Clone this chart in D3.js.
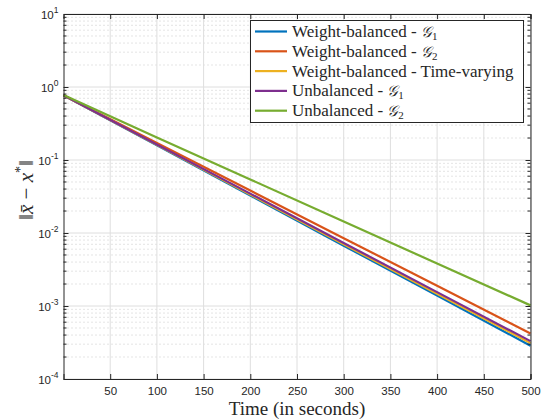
<!DOCTYPE html>
<html>
<head>
<meta charset="utf-8">
<script src="https://cdn.jsdelivr.net/npm/d3@7"></script>
<style>
  body { margin: 0; background: #fff; }
  svg { display: block; }
  .tick text { font-family: "Liberation Sans", Arial, sans-serif; }
</style>
</head>
<body>
<svg width="543" height="420"></svg>
<script>
// time samples (seconds) and read-off error values
const times = [0, 100, 200, 300, 400, 500]
const wbG1 = [0.77, 0.159, 0.0327, 0.0067, 1.39e-3, 2.86e-4]
const wbG2 = [0.77, 0.171, 0.0381, 0.0085, 1.89e-3, 4.2e-4]
const wbTV = [0.77, 0.161, 0.0337, 0.0070, 1.47e-3, 3.1e-4]
const ubG1 = [0.77, 0.163, 0.0346, 0.0073, 1.55e-3, 3.3e-4]
const ubG2 = [0.78, 0.204, 0.0541, 0.0144, 3.82e-3, 1.02e-3]
const seriesNames = ["Weight-balanced - ", "Weight-balanced - ", "Weight-balanced - Time-varying", "Unbalanced - ", "Unbalanced - "]
const seriesSub = ["1", "2", null, "1", "2"]
const xTicks = [50, 100, 150, 200, 250, 300, 350, 400, 450, 500]
const yExps = [-4, -3, -2, -1, 0, 1]

const colors = ["#0072BD", "#D95319", "#EDB120", "#7E2F8E", "#77AC30"]
const allSeries = [wbG1, wbG2, wbTV, ubG1, ubG2]

let svg = d3.select("svg")
let m = { left: 63.5, right: 530.5, top: 14, bottom: 379 }

let x = d3.scaleLinear().domain([0, 500]).range([m.left, m.right])
let y = d3.scaleLog().domain([1e-4, 10]).range([m.bottom, m.top])

let axisCol = "#262626"

// minor horizontal grid (dotted)
let minor = []
for (let e = -4; e < 1; e++) for (let k = 2; k <= 9; k++) minor.push(k * Math.pow(10, e))
svg.append("g").selectAll("line").data(minor).enter().append("line")
  .attr("x1", m.left).attr("x2", m.right)
  .attr("y1", d => y(d)).attr("y2", d => y(d))
  .attr("stroke", "#c4c4c4").attr("stroke-width", 0.9)
  .attr("stroke-dasharray", "1,3")

// major grid
svg.append("g").selectAll("line").data(yExps).enter().append("line")
  .attr("x1", m.left).attr("x2", m.right)
  .attr("y1", d => y(Math.pow(10, d))).attr("y2", d => y(Math.pow(10, d)))
  .attr("stroke", "#dedede").attr("stroke-width", 1)
svg.append("g").selectAll("line").data(xTicks).enter().append("line")
  .attr("y1", m.top).attr("y2", m.bottom)
  .attr("x1", d => x(d)).attr("x2", d => x(d))
  .attr("stroke", "#dedede").attr("stroke-width", 1)

// series
let line = d3.line().x((d, i) => x(times[i])).y(d => y(d))
svg.append("g").selectAll("path").data(allSeries).enter().append("path")
  .attr("d", line)
  .attr("fill", "none")
  .attr("stroke", (d, i) => colors[i])
  .attr("stroke-width", 2.2)

// axes box with inward ticks
let bottomAx = d3.axisBottom(x).tickValues(xTicks).tickSize(-5).tickPadding(8).tickFormat(d3.format("d"))
let topAx = d3.axisTop(x).tickValues(xTicks).tickSize(-5).tickFormat("")
let leftAx = d3.axisLeft(y).tickValues(yExps.map(e => Math.pow(10, e))).tickSize(-5).tickFormat("")
let rightAx = d3.axisRight(y).tickValues(yExps.map(e => Math.pow(10, e))).tickSize(-5).tickFormat("")

let gB = svg.append("g").attr("transform", `translate(0,${m.bottom})`).call(bottomAx)
svg.append("g").attr("transform", `translate(0,${m.top})`).call(topAx)
svg.append("g").attr("transform", `translate(${m.left},0)`).call(leftAx)
svg.append("g").attr("transform", `translate(${m.right},0)`).call(rightAx)

svg.selectAll(".domain").attr("stroke", axisCol).attr("stroke-width", 1)
svg.selectAll(".tick line").attr("stroke", axisCol)
gB.selectAll(".tick text").attr("fill", axisCol).style("font-size", "11.5px")

// minor y ticks on both sides
;[[m.left, 3], [m.right, -3]].forEach(([px, len]) => {
  svg.append("g").selectAll("line").data(minor).enter().append("line")
    .attr("x1", px).attr("x2", px + len)
    .attr("y1", d => y(d)).attr("y2", d => y(d))
    .attr("stroke", axisCol).attr("stroke-width", 1)
})

// y tick labels 10^e
let yl = svg.append("g")
  .style("font-family", "'Liberation Sans', Arial, sans-serif").attr("fill", axisCol)
yExps.forEach(e => {
  let t = yl.append("text")
    .attr("x", m.left - 5).attr("y", y(Math.pow(10, e)) + 5)
    .attr("text-anchor", "end").style("font-size", "11.5px")
  t.append("tspan").text("10")
  t.append("tspan").attr("dy", -6).style("font-size", "8.5px").text(e)
})

// axis labels
let serif = "'Liberation Serif', 'Times New Roman', serif"
svg.append("text")
  .attr("x", (m.left + m.right) / 2).attr("y", 415)
  .attr("text-anchor", "middle")
  .style("font-family", serif).style("font-size", "19px").attr("fill", axisCol)
  .text("Time (in seconds)")

let yt = svg.append("text")
  .attr("transform", `translate(33,190) rotate(-90)`)
  .attr("text-anchor", "middle")
  .style("font-family", serif).style("font-size", "21px").attr("fill", axisCol)
yt.append("tspan").text("\u2016")
yt.append("tspan").style("font-style", "italic").text("x\u0304")
yt.append("tspan").text(" \u2212 ")
yt.append("tspan").style("font-style", "italic").text("x")
yt.append("tspan").attr("dy", -8).style("font-size", "14px").text("*")
yt.append("tspan").attr("dy", 8).text("\u2016")

// legend
let lg = svg.append("g")
lg.append("rect")
  .attr("x", 250.5).attr("y", 20.5).attr("width", 273).attr("height", 102)
  .attr("fill", "#fff").attr("stroke", axisCol).attr("stroke-width", 1)
let rows = lg.selectAll(".row").data(seriesNames).enter().append("g")
  .attr("transform", (d, i) => `translate(0,${31.5 + i * 19.8})`)
rows.append("line")
  .attr("x1", 255).attr("x2", 287)
  .attr("stroke", (d, i) => colors[i]).attr("stroke-width", 2.2)
rows.append("text")
  .attr("x", 292).attr("y", 5.5)
  .style("font-family", serif).style("font-size", "17px").attr("fill", axisCol)
  .append("tspan").text(d => d)
rows.each(function (d, i) {
  if (seriesSub[i] === null) return
  let t = d3.select(this).select("text")
  t.append("tspan").style("font-style", "italic").style("font-family", "'DejaVu Serif', serif").style("font-size", "15px").text("\uD835\uDCA2")
  t.append("tspan").attr("dy", 3).style("font-size", "11px").text(seriesSub[i])
})
</script>
</body>
</html>
